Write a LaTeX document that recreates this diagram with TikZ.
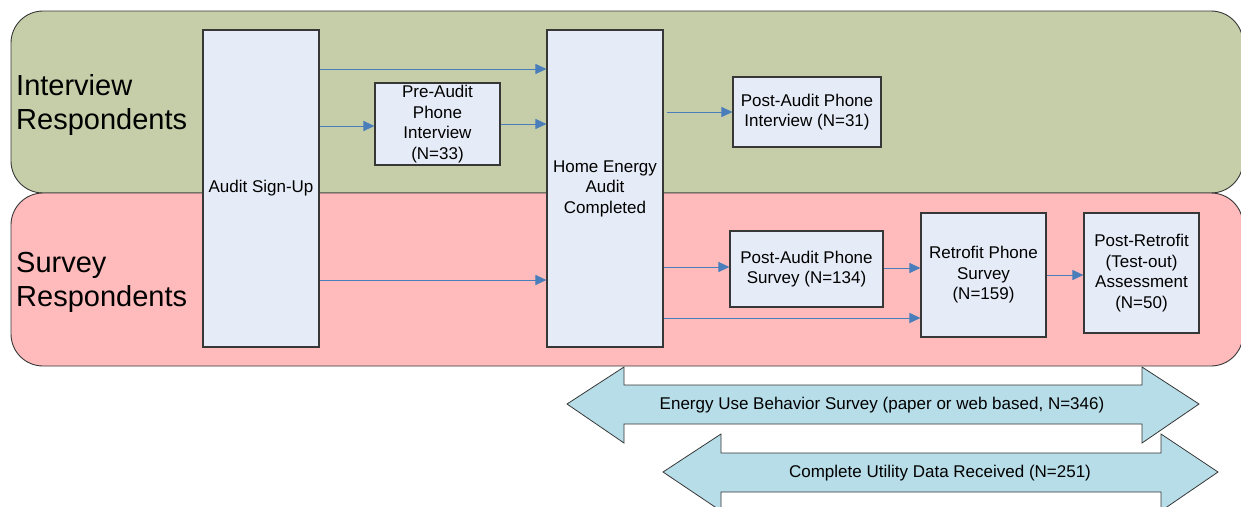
\documentclass[tikz,border=0pt]{standalone}
\usepackage{fontspec}
\setmainfont{Liberation Sans}
\usetikzlibrary{arrows.meta}

\definecolor{laneA}{RGB}{197,206,168}
\definecolor{laneB}{RGB}{255,187,187}
\definecolor{boxfill}{RGB}{230,236,247}
\definecolor{flowblue}{RGB}{74,126,187}
\definecolor{bandfill}{RGB}{183,221,232}
\definecolor{edgegray}{RGB}{55,55,55}

\begin{document}
\begin{tikzpicture}[x=1pt,y=-1pt,
  lane/.style={draw=edgegray, line width=0.9pt, rounded corners=32pt},
  lanelabel/.style={anchor=west, align=left, inner sep=0pt,
    font=\fontsize{29}{34}\selectfont},
  stagebox/.style={draw=edgegray, line width=1.1pt, fill=boxfill, align=center,
    inner sep=0pt, font=\fontsize{17}{20.5}\selectfont},
  flow/.style={draw=flowblue, line width=1pt,
    -{Triangle[length=11pt,width=10pt]}},
  band/.style={draw=edgegray, line width=0.8pt, fill=bandfill},
  bandtext/.style={inner sep=0pt, font=\fontsize{17}{20.5}\selectfont}
]
\useasboundingbox (0,0) rectangle (1241,506);

% wide double-headed bands below the swimlanes
\path[band] (567,404) -- (624,367) -- (624,385) -- (1142,385) -- (1142,367)
  -- (1199,404) -- (1142,443) -- (1142,424) -- (624,424) -- (624,443) -- cycle;
\node[bandtext] (energy) at (882,405)
  {Energy Use Behavior Survey (paper or web based, N=346)};
\path[band] (663,472) -- (721,434) -- (721,453) -- (1161,453) -- (1161,434)
  -- (1218,472) -- (1161,511) -- (1161,492) -- (721,492) -- (721,511) -- cycle;
\node[bandtext] (utility) at (940,473) {Complete Utility Data Received (N=251)};

% swimlanes
\path[lane, fill=laneA] (11,11) rectangle (1243,193);
\path[lane, fill=laneB] (11,193) rectangle (1243,366);
\node[lanelabel] (laneI) at (16,104.5) {Interview\\Respondents};
\node[lanelabel] (laneS) at (16,282.5) {Survey\\Respondents};

% stages
\node[stagebox, minimum width=116pt, minimum height=317pt] (signup) at (261,188.5)
  {Audit Sign-Up};
\node[stagebox, minimum width=116pt, minimum height=317pt] (audit) at (605,188.5)
  {Home Energy\\Audit\\Completed};
\node[stagebox, minimum width=125pt, minimum height=82pt] (pre) at (437.5,124)
  {Pre-Audit\\Phone\\Interview\\(N=33)};
\node[stagebox, minimum width=148pt, minimum height=70pt] (postint) at (807,112)
  {Post-Audit Phone\\Interview (N=31)};
\node[stagebox, minimum width=153pt, minimum height=76pt] (postsur) at (806.5,269)
  {Post-Audit Phone\\Survey (N=134)};
\node[stagebox, minimum width=125pt, minimum height=124pt] (retro) at (983.5,275)
  {Retrofit Phone\\Survey\\(N=159)};
\node[stagebox, minimum width=115pt, minimum height=120pt] (testout) at (1141.5,273)
  {Post-Retrofit\\(Test-out)\\Assessment\\(N=50)};

% flows between stages
\draw[flow] (signup.east |- 0,69) -- (audit.west |- 0,69);
\draw[flow] (signup.east |- 0,126) -- (pre.west |- 0,126);
\draw[flow] (pre.east |- 0,124) -- (audit.west |- 0,124);
\draw[flow] (signup.east |- 0,280) -- (audit.west |- 0,280);
\draw[flow, shorten <=3pt] (audit.east |- 0,112) -- (postint.west |- 0,112);
\draw[flow] (audit.east |- 0,267) -- (postsur.west |- 0,267);
\draw[flow] (postsur.east |- 0,268) -- (retro.west |- 0,268);
\draw[flow] (audit.east |- 0,318) -- (retro.west |- 0,318);
\draw[flow] (retro.east |- 0,275) -- (testout.west |- 0,275);
\end{tikzpicture}
\end{document}
